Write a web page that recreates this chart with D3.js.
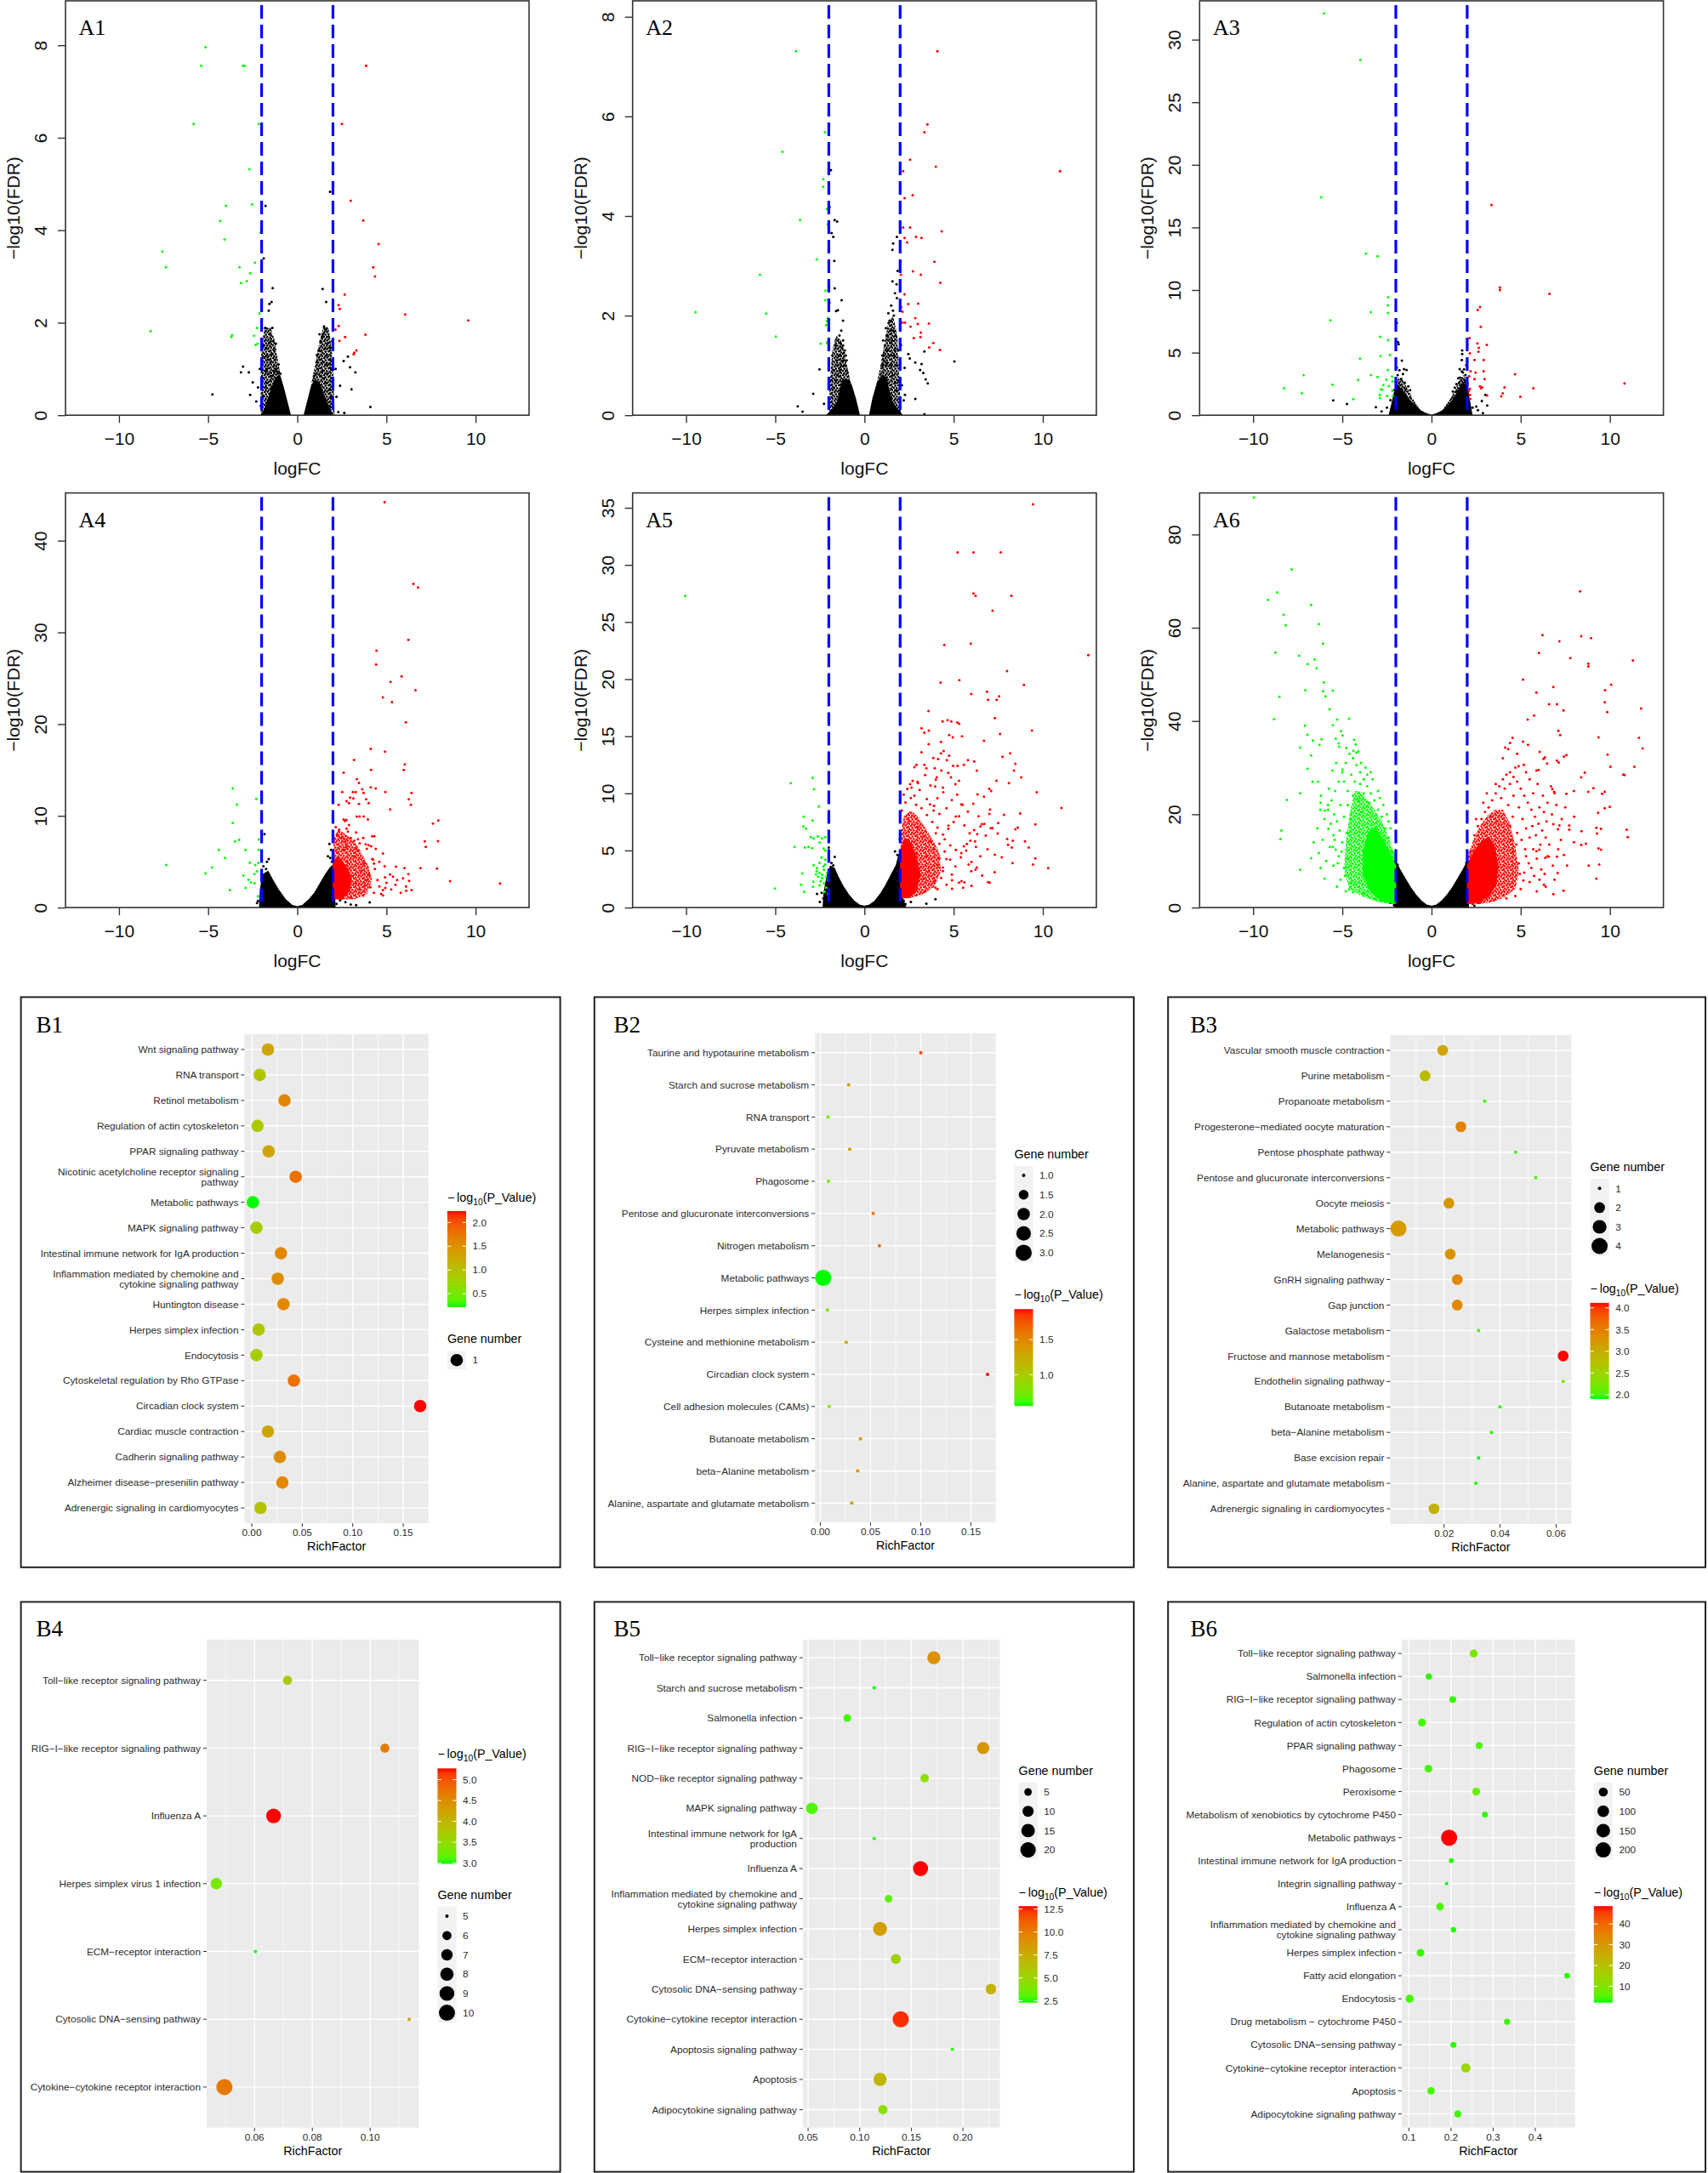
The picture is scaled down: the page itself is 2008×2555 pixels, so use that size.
<!DOCTYPE html>
<html><head><meta charset="utf-8">
<script src="https://cdn.jsdelivr.net/npm/d3@7/dist/d3.min.js"></script>
<style>html,body{margin:0;padding:0;background:#fff;}svg{display:block;}</style>
</head><body>
<svg id="fig" width="2008" height="2555" xmlns="http://www.w3.org/2000/svg"></svg>
<script>
// ================= DATA: volcano plots (logFC, -log10 FDR) =================
const volcNames = ['A1','A2','A3','A4','A5','A6'];
const volcXDomain = [-13, 13];
const volcXTicks = [-10, -5, 0, 5, 10];
const volcThreshold = [-2, 2];
const volcYMax = [8.96, 8.32, 33.1, 45.2, 36.3, 88.9];
const volcYTicks = [[0,2,4,6,8],[0,2,4,6,8],[0,5,10,15,20,25,30],[0,10,20,30,40],[0,5,10,15,20,25,30,35],[0,20,40,60,80]];

const a1Green = [[-5.15,7.96],[-5.39,7.56],[-3.04,7.56],[-2.96,7.56],[-5.81,6.30],[-2.16,6.30],[-2.68,5.32],[-4.0,4.53],[-2.54,4.56],[-4.32,4.20],[-4.08,3.80],[-7.57,3.54],[-7.37,3.20],[-2.38,3.30],[-3.24,3.20],[-2.64,3.07],[-2.84,2.90],[-3.16,2.86],[-8.23,1.82],[-3.66,1.73],[-3.70,1.69],[-2.26,1.89],[-2.42,1.72],[-2.22,1.55],[-2.34,1.52],[-2.12,2.20],[-2.06,3.95]];
const a1Red = [[3.86,7.56],[2.50,6.30],[3.0,4.64],[3.70,4.21],[4.56,3.70],[4.26,3.20],[4.36,3.0],[2.66,2.61],[2.32,2.38],[2.38,2.30],[6.05,2.18],[9.59,2.05],[2.32,1.93],[2.14,1.85],[3.82,1.74],[2.68,1.69],[2.36,1.61],[3.32,1.40],[3.16,1.32],[3.20,1.35]];
const a1Black = [[1.84,4.83],[-1.78,4.53],[-1.88,3.39],[-1.38,2.75],[1.42,2.73],[-1.44,2.45],[-1.56,2.41],[1.62,2.45],[-1.60,2.26],[-4.76,0.45],[-3.04,1.05],[-3.16,0.93],[-2.72,0.93],[-2.50,0.71],[-2.64,0.44],[4.10,0.18],[2.60,1.17],[2.84,1.27],[2.96,1.04],[3.26,0.93],[2.40,0.64],[3.04,0.56],[2.30,0.07],[2.64,0.05],[1.5,1.92],[1.64,1.88],[-1.80,1.89],[-1.40,1.89],[-1.9,1.5],[-1.7,1.3],[-1.2,1.55],[-1.95,1.1],[-1.75,0.95],[1.3,1.6],[1.45,1.75],[1.7,1.55],[1.85,1.2],[1.6,1.1],[1.95,0.8],[2.2,0.4],[2.15,1.0],[-2.2,0.6],[-2.3,0.3],[1.1,1.3],[1.25,1.75],[-1.3,1.4],[-1.5,1.6],
 [-1.85,1.7],[-1.75,1.45],[-1.65,1.2],[-1.55,1.75],[-1.45,1.3],[-1.35,1.05],[-1.25,1.2],[-1.15,0.95],[-1.05,1.1],[-0.95,0.9],[-1.9,0.8],[-1.8,0.6],[-1.7,0.7],[-1.6,0.9],[-1.5,0.75],[-1.4,0.85],[-1.3,0.95],[-1.95,0.4],[-2.05,0.2],[-1.7,1.0],[-1.5,1.15],[-1.2,1.0],[-1.1,0.9],[-1.35,1.6],[-1.6,1.55],[-1.85,1.25],[-2.1,1.0],
 [1.05,0.9],[1.15,1.0],[1.25,1.2],[1.35,1.4],[1.45,1.15],[1.55,1.45],[1.65,1.3],[1.75,1.7],[1.85,1.45],[1.95,1.6],[1.5,0.8],[1.6,0.7],[1.7,0.9],[1.8,0.55],[1.9,0.4],[2.0,0.3],[1.4,0.95],[1.3,0.85],[1.2,1.4],[1.1,1.15],[0.95,0.85],[1.4,1.7],[1.6,1.85],[1.75,1.1],[1.9,1.0]];
const a1Core = [[[-0.4,0],[-0.6,0.3],[-0.8,0.6],[-1.0,0.85],[-1.2,0.8],[-1.4,0.6],[-1.6,0.35],[-1.8,0.15],[-1.95,0]],[[0.4,0],[0.6,0.3],[0.8,0.6],[1.0,0.75],[1.2,0.7],[1.4,0.5],[1.6,0.3],[1.8,0.15],[1.95,0]]];
const a1BlackHalo = [[[-2.05,0],[-2.05,1.2],[-1.85,1.9],[-1.5,1.9],[-1.25,1.6],[-1.05,1.1],[-0.8,0.6],[-0.6,0.3],[-0.4,0]],[[0.4,0],[0.7,0.5],[0.95,1.0],[1.2,1.5],[1.45,1.9],[1.75,1.9],[1.95,1.4],[2.05,0.6],[2.1,0]]];

const a2Green = [[-3.84,7.31],[-2.21,5.68],[-4.60,5.29],[-2.31,4.74],[-2.31,4.59],[-2.11,4.14],[-3.61,3.92],[-2.06,3.83],[-2.68,3.13],[-5.86,2.82],[-2.19,2.50],[-2.19,2.31],[-9.47,2.07],[-5.51,2.04],[-2.06,1.95],[-2.10,1.89],[-2.15,1.81],[-4.97,1.58],[-2.06,1.48],[-2.10,1.45],[-2.46,1.44]];
const a2Red = [[4.09,7.31],[3.53,5.84],[3.36,5.68],[2.56,5.13],[4.0,4.99],[10.96,4.90],[2.17,4.90],[2.70,4.42],[2.25,4.36],[2.17,3.77],[2.56,3.77],[4.33,3.69],[2.25,3.56],[2.39,3.47],[2.89,3.58],[3.2,3.56],[3.92,3.08],[2.02,3.08],[2.72,2.89],[3.16,2.82],[4.25,2.66],[2.04,2.82],[2.25,2.43],[2.46,2.23],[3.01,2.24],[2.06,2.17],[2.13,2.08],[2.85,1.95],[2.13,1.86],[2.27,1.86],[2.99,1.83],[3.61,1.84],[2.58,1.78],[3.16,1.66],[2.77,1.55],[3.14,1.57],[3.86,1.45],[3.63,1.36],[4.23,1.31],[2.06,1.41]];
const a2Black = [[-1.88,4.92],[-1.96,4.18],[-1.67,3.92],[-1.53,3.89],[-1.84,3.66],[-1.75,3.58],[-1.69,3.10],[-1.98,2.58],[-1.67,2.55],[-1.28,2.31],[-1.96,2.26],[-1.49,2.11],[-1.59,2.09],[1.82,3.58],[1.61,3.45],[1.57,3.32],[1.86,2.90],[1.57,2.69],[1.80,2.63],[1.71,2.45],[1.82,2.35],[1.34,2.05],[5.04,1.08],[3.20,1.03],[2.85,1.06],[3.12,0.91],[3.30,0.85],[3.43,0.72],[3.55,0.64],[2.85,0.33],[2.46,1.23],[3.36,1.28],[2.54,1.14],[2.25,0.95],[2.27,0.41],[-2.52,0.92],[-2.87,0.43],[-3.74,0.18],[-3.47,0.07],[-2.27,0.23],[3.36,0.02],[-1.3,1.7],[-1.2,1.5],[-1.1,1.3],[-1.35,1.2],[-1.5,1.0],[-1.7,0.9],[-1.9,0.7],[-1.2,1.9],[-1.0,1.1],[-1.6,1.4],[-1.8,1.2],[-2.0,0.9],[1.2,1.3],[1.3,1.6],[1.4,1.9],[1.5,2.2],[1.6,1.7],[1.7,1.3],[1.8,1.0],[1.9,0.7],[1.1,1.1],[1.45,1.45],[1.65,2.0],[1.75,1.6],[1.9,1.3],[2.1,0.6],[2.2,0.3],[1.0,1.2],[1.25,1.05],
 [-1.0,0.9],[-1.1,1.0],[-1.2,1.1],[-1.3,1.0],[-1.4,0.9],[-1.5,0.8],[-1.6,0.7],[-1.7,0.55],[-1.15,1.25],[-1.25,1.35],[-1.35,1.45],[-1.45,1.2],[-1.55,1.1],[-1.05,1.2],[-0.95,0.85],[-1.4,1.6],[-1.5,1.5],[-1.2,1.4],
 [1.0,1.0],[1.1,1.2],[1.2,1.0],[1.3,1.3],[1.4,1.2],[1.5,1.0],[1.6,0.8],[1.7,0.65],[1.8,0.5],[1.15,1.4],[1.25,1.6],[1.35,1.5],[1.45,1.7],[1.55,1.5],[1.65,1.2],[1.05,1.5],[1.35,1.85],[1.5,1.9],[1.6,2.1],[1.2,1.75]];
const a2Core = [[[-0.3,0],[-0.5,0.3],[-0.75,0.6],[-1.0,0.72],[-1.2,0.7],[-1.35,0.5],[-1.5,0.25],[-1.8,0.1],[-2.1,0]],[[0.3,0],[0.5,0.35],[0.75,0.65],[1.0,0.8],[1.2,0.75],[1.35,0.5],[1.5,0.3],[1.8,0.12],[2.1,0]]];
const a2BlackHalo = [[[-2.0,0],[-1.95,0.6],[-1.8,1.3],[-1.6,1.6],[-1.3,1.5],[-1.1,1.2],[-0.8,0.7],[-0.5,0.3],[-0.3,0]],[[0.3,0],[0.6,0.5],[0.9,1.0],[1.1,1.4],[1.3,1.8],[1.6,2.0],[1.85,1.6],[1.95,0.8],[2.05,0]]];

const a3Green = [[-6.04,32.1],[-3.99,28.4],[-6.18,17.4],[-3.67,12.9],[-3.02,12.7],[-2.43,9.42],[-2.45,8.77],[-3.40,8.23],[-2.45,8.16],[-5.67,7.58],[-2.88,6.27],[-2.43,6.0],[-2.86,4.72],[-2.33,4.82],[-4.01,4.53],[-2.45,3.61],[-3.40,3.20],[-7.17,3.20],[-3.02,3.05],[-2.53,2.83],[-2.21,3.08],[-4.11,2.81],[-2.19,2.69],[-5.55,2.45],[-2.70,2.40],[-2.39,2.32],[-8.27,2.16],[-2.84,2.06],[-2.76,2.06],[-2.19,1.96],[-7.27,1.74],[-2.90,1.62],[-2.90,1.38],[-4.38,1.28],[-2.49,1.55],[-2.17,1.53]];
const a3Red = [[3.36,16.8],[3.83,10.2],[3.83,10.0],[6.61,9.69],[2.72,8.64],[2.59,8.40],[2.76,7.07],[2.13,6.17],[2.02,5.62],[2.57,5.74],[3.10,5.62],[2.65,5.38],[2.63,5.08],[2.15,4.94],[2.41,4.41],[2.92,4.41],[2.19,3.51],[2.47,3.41],[2.92,3.51],[4.68,3.27],[2.11,3.12],[2.41,2.88],[2.98,2.88],[10.82,2.54],[2.03,2.52],[2.72,2.30],[2.84,2.23],[2.78,2.16],[4.09,2.23],[5.71,2.16],[2.15,2.11],[2.09,1.91],[3.99,1.74],[3.91,1.50],[3.12,1.57],[4.98,1.48],[2.15,1.62],[2.17,1.31]];
const a3Black = [[-1.95,7.36],[-1.88,5.84],[-1.84,5.67],[-1.66,4.36],[-1.54,3.68],[-1.40,3.61],[-5.51,1.19],[-4.74,0.90],[-3.12,0.65],[1.72,5.18],[1.72,4.89],[1.70,4.41],[1.58,3.68],[1.82,3.66],[1.50,2.95],[1.76,3.41],[3.02,1.62],[2.82,1.14],[3.12,0.77],[2.88,0.17],[2.51,0.70],[-1.9,3.2],[-1.7,2.9],[-1.5,2.6],[-1.3,2.3],[-2.0,2.7],[-1.8,3.6],[-2.1,2.0],[-2.3,1.2],[-2.5,0.6],[-2.8,0.3],[1.4,2.5],[1.6,3.0],[1.9,3.2],[1.3,2.2],[1.85,2.8],[2.1,1.0],[2.3,0.6],[2.6,0.4],[-1.2,2.0],[1.2,1.9],[-1.6,3.3],[-1.75,2.4],[-1.95,3.8],[-1.45,2.1],[1.55,2.6],[1.7,3.5],[1.95,4.0],[1.45,1.9]];
const a3Core = [[[-0.05,0],[-0.3,0.1],[-0.6,0.3],[-0.9,0.7],[-1.2,1.1],[-1.5,1.6],[-1.7,2.0],[-1.9,2.4],[-2.05,1.8],[-2.2,0.9],[-2.35,0]],[[0.05,0],[0.3,0.1],[0.6,0.3],[0.9,0.7],[1.2,1.2],[1.4,1.6],[1.6,2.2],[1.8,2.6],[1.98,2.2],[2.1,1.2],[2.25,0]]];
const a3BlackHalo = [[[-2.4,0],[-2.05,2.2],[-1.85,3.0],[-1.6,2.8],[-1.3,2.0],[-1.0,1.2],[-0.6,0.4],[-0.1,0]],[[0.1,0],[0.6,0.4],[1.0,1.2],[1.3,2.0],[1.55,2.8],[1.8,3.2],[1.98,2.8],[2.1,1.5],[2.3,0]]];

const a4Green = [[-3.62,12.98],[-2.30,11.85],[-3.38,11.23],[-3.62,9.24],[-7.35,4.64],[-3.50,7.22],[-3.26,7.38],[-2.16,7.42],[-4.40,6.29],[-2.90,6.29],[-2.16,6.29],[-4.06,5.40],[-2.66,4.90],[-2.36,4.64],[-2.18,4.87],[-4.78,4.37],[-5.15,3.71],[-2.26,3.94],[-2.40,3.64],[-3.02,3.48],[-2.74,3.05],[-2.60,2.75],[-2.40,2.65],[-2.90,2.15],[-3.78,1.92],[-2.20,1.23]];
const a4Red = [[4.90,44.2],[6.51,35.3],[6.77,34.9],[6.23,29.2],[4.44,28.0],[4.42,26.5],[5.85,25.2],[5.23,24.6],[6.63,23.7],[4.80,22.9],[5.31,22.4],[6.09,20.2],[4.12,17.3],[4.92,17.0],[3.18,16.1],[6.03,15.6],[4.14,15.0],[5.97,15.0],[2.60,14.7],[3.34,14.0],[3.46,13.6],[4.12,13.1],[4.40,13.0],[4.94,12.6],[6.41,12.5],[3.12,12.6],[3.28,12.6],[2.52,12.6],[3.64,12.9],[3.72,12.5],[2.96,12.0],[2.76,11.6],[2.90,11.4],[3.14,11.9],[6.25,11.8],[6.37,11.2],[3.86,11.8],[3.46,11.3],[4.0,11.4],[2.32,11.2],[5.21,10.7],[2.60,9.6],[2.76,9.57],[2.68,9.44],[3.34,9.93],[3.50,9.93],[3.72,9.93],[3.96,9.6],[7.91,9.50],[7.61,9.17],[2.16,8.77],[2.76,8.61],[2.84,8.28],[2.22,7.95],[2.50,7.68],[2.64,7.52],[4.20,7.78],[4.32,7.78],[3.40,7.45],[3.20,7.28],[7.15,7.22],[7.21,6.62],[7.89,7.25],[3.84,6.89],[4.0,6.79],[4.14,6.69],[2.74,6.62],[3.30,6.46],[4.80,5.89],[4.26,5.23],[4.30,4.80],[5.53,4.47],[6.01,4.30],[6.23,3.64],[6.27,2.91],[6.91,4.30],[7.83,4.24],[8.57,2.88],[11.37,2.62],[4.92,3.31],[5.37,3.38],[4.94,2.15],[5.27,1.99],[5.51,2.48],[6.11,1.85],[6.41,1.92],[4.70,1.49],[4.80,1.32],[5.93,3.18],[2.1,1.2],[2.2,2.0],[2.3,3.1],[2.15,4.4],[2.4,5.2],[2.25,6.0],[2.6,6.3],[2.8,5.0],[2.9,4.2],[3.1,3.4],[3.3,2.6],[3.5,2.0],[3.8,2.4],[3.9,3.0],[4.0,3.6],[4.1,2.2],[3.6,4.0],[3.7,4.8],[3.2,5.6],[3.4,6.2],[2.7,7.2],[3.0,7.6],[3.5,7.0],[3.9,6.4],[4.2,5.3],[4.35,4.2],[4.5,3.0],[4.6,2.3],[4.3,1.6],[3.7,1.3],[3.0,1.1],[2.5,1.0],[4.8,1.9],[5.0,2.7],[5.2,3.6],[4.6,5.0],[2.35,8.5],[2.9,9.0],[3.3,8.2],[3.7,7.6],[4.4,6.4],[4.9,4.5],[5.6,3.0],[6.1,2.3],[5.8,1.6]];
const a4Black = [[-1.84,8.0],[-1.6,5.3],[-1.7,5.0],[1.72,5.6],[1.9,6.3],[1.8,6.95],[4.06,0.56],[3.0,0.33],[3.3,0.26],[2.4,0.8],[2.56,1.16],[-2.2,0.73],[-1.94,0.33],[-2.26,0.5],[-1.9,4.5],[-1.75,4.2],[1.95,5.0],[1.85,5.4],[2.2,0.4],[2.7,0.6]];
const a4Core = [[[-2.1,0],[-2.05,2.0],[-1.9,3.6],[-1.65,3.9],[-1.4,3.0],[-1.1,2.0],[-0.7,0.9],[-0.3,0.2],[0,0.05],[0.3,0.2],[0.7,0.9],[1.0,1.6],[1.3,2.6],[1.6,3.6],[1.85,4.3],[2.02,4.6],[2.05,2.5],[2.1,0]]];
const a4RedCore = [[[2.03,1.0],[2.03,5.0],[2.3,5.5],[2.7,4.5],[3.0,3.2],[2.9,1.8],[2.5,1.0]]];
const a4RedHalo = [[[2.03,0.9],[2.03,7.5],[2.3,8.5],[2.7,8.0],[3.2,7.2],[3.6,6.0],[4.0,4.5],[4.2,3.0],[3.9,1.5],[3.2,0.9]]];

const a5Green = [[-10.05,27.3],[-4.13,10.9],[-2.91,11.37],[-2.83,10.36],[-2.56,8.85],[-3.41,7.95],[-2.91,7.63],[-3.43,7.10],[-3.28,6.91],[-3.01,6.17],[-2.85,6.06],[-2.62,6.22],[-2.39,6.06],[-2.19,6.17],[-3.92,5.31],[-3.34,5.26],[-3.14,5.31],[-2.93,5.21],[-2.52,5.71],[-2.29,5.16],[-2.19,5.0],[-2.41,4.38],[-2.19,4.20],[-2.52,3.91],[-2.21,3.77],[-2.85,3.72],[-2.66,3.45],[-3.49,2.98],[-2.68,3.19],[-2.52,3.03],[-2.72,2.92],[-2.37,2.87],[-2.27,3.30],[-2.15,2.71],[-2.39,2.60],[-2.87,2.26],[-2.27,2.13],[-2.52,1.94],[-3.55,1.99],[-3.38,1.38],[-5.02,1.67],[-2.15,1.73],[-2.23,1.38],[-2.89,1.81],[-2.05,2.4],[-2.1,3.0],[-2.3,3.6],[-2.45,2.3],[-2.6,2.7],[-2.05,1.2]];
const a5Red = [[9.45,35.3],[5.22,31.1],[6.11,31.1],[7.64,31.1],[6.11,27.5],[6.23,27.3],[8.24,27.3],[7.18,26.0],[4.48,23.0],[5.96,23.1],[12.55,22.1],[7.99,20.7],[4.27,19.7],[5.32,19.9],[8.94,19.5],[5.99,18.7],[6.87,18.9],[6.93,18.2],[7.41,18.2],[7.55,18.5],[3.59,17.2],[4.87,16.3],[4.38,16.3],[4.66,16.4],[7.31,16.6],[5.20,16.2],[5.31,16.1],[3.20,15.7],[3.36,15.3],[3.61,15.5],[4.75,15.1],[4.95,14.9],[5.47,15.0],[9.39,15.5],[4.29,14.5],[4.44,13.7],[4.29,13.5],[8.17,13.5],[7.74,13.2],[4.75,13.3],[3.86,13.1],[4.13,13.0],[4.62,12.9],[8.46,12.6],[8.38,12.0],[6.15,12.8],[2.91,12.5],[3.36,12.5],[3.47,12.2],[4.97,12.4],[5.22,12.4],[5.57,12.5],[3.94,12.2],[4.31,12.0],[8.79,11.4],[4.85,11.4],[5.30,11.1],[2.56,10.8],[2.64,10.5],[2.97,11.0],[4.05,11.4],[3.96,10.6],[4.42,10.1],[6.34,9.91],[7.0,10.4],[7.1,10.2],[9.66,10.1],[11.04,8.72],[7.04,8.58],[8.73,8.24],[7.82,8.13],[6.58,7.31],[6.72,7.33],[9.58,7.28],[7.08,6.96],[7.18,6.96],[8.46,6.86],[7.47,6.48],[6.32,6.43],[8.05,5.50],[8.26,5.26],[8.32,5.85],[9.21,5.26],[7.31,4.62],[9.58,4.30],[9.45,3.77],[10.30,3.45],[5.84,3.77],[5.99,3.19],[6.23,3.32],[5.30,2.18],[5.44,2.31],[6.93,2.23],[7.02,2.18],[4.91,2.39],[4.91,1.65],[5.53,1.73],[3.98,1.73],[5.57,5.37],[5.74,5.58],[5.43,4.78],[6.15,6.78],[5.94,5.85],[6.25,5.31],[4.50,5.98],[4.81,5.45],[5.12,5.05],[4.60,4.25],[4.09,3.72],[4.40,3.19],[4.71,7.18],[5.12,7.97],[5.43,9.04],[3.88,8.50],[3.67,9.04],[4.09,9.57],[2.1,8.5],[2.3,9.2],[2.6,9.6],[2.9,9.0],[3.2,8.7],[3.5,8.1],[3.8,7.5],[4.1,7.0],[4.4,6.4],[4.7,6.9],[5.0,7.5],[5.3,8.0],[5.6,7.2],[5.9,6.5],[6.2,5.8],[6.5,7.1],[6.8,6.3],[4.2,5.6],[4.5,4.9],[4.8,4.2],[5.1,3.6],[5.4,4.4],[5.7,5.0],[6.0,4.0],[6.3,3.5],[6.6,2.8],[4.3,2.6],[4.6,2.0],[4.9,2.9],[3.3,2.5],[3.6,3.2],[3.9,2.3],[4.1,1.6],[3.4,1.4],[2.8,9.8],[3.1,10.3],[3.5,9.5],[3.9,8.9],[4.2,8.2],[4.6,8.7],[4.9,9.4],[5.2,9.9],[5.5,9.0],[5.8,8.4],[6.1,9.1],[6.4,8.0],[2.4,10.4],[2.7,11.1],[3.0,10.9],[3.4,11.6],[3.7,10.7],[4.0,11.2],[4.4,10.5],[4.7,11.8],[5.1,10.8],[3.2,13.6],[3.6,14.3],[2.8,12.3],[2.2,9.9],[2.5,7.6],[3.0,7.0],[3.3,6.2],[2.6,5.6],[2.9,4.7],[3.5,4.5],[3.9,5.1],[4.2,4.3],[4.4,3.5],[3.7,5.8],[4.0,6.5],[7.7,4.4],[8.0,6.0],[8.6,7.0],[9.0,5.8],[7.5,7.4],[6.9,5.1],[7.3,3.1],[8.3,3.9],[6.0,1.9],[5.6,2.2],[6.5,4.5],[7.0,8.2],[6.7,9.7],[7.4,11.1],[6.3,12.0],[5.8,12.9],[6.7,14.6],[7.6,15.2],[8.1,10.9]];
const a5Black = [[-2.0,5.26],[-1.67,4.44],[-2.66,1.2],[-1.85,3.9],[-1.9,3.4],[-1.75,3.7],[1.98,5.98],[1.71,4.92],[1.85,4.6],[3.47,0.35],[3.98,0.74],[2.43,0.93],[2.2,0.6],[2.6,0.5],[-2.2,1.1],[-2.3,0.8],[-2.5,0.5],[-2.15,1.5],[-2.4,1.3],[1.95,4.2],[2.1,0.4],[2.3,0.3]];
const a5Core = [[[-2.3,0],[-2.25,1.3],[-2.05,3.0],[-1.9,3.6],[-1.7,3.4],[-1.5,2.7],[-1.2,1.8],[-0.9,1.1],[-0.6,0.55],[-0.3,0.2],[0,0.08],[0.3,0.2],[0.6,0.55],[0.9,1.15],[1.2,1.9],[1.5,2.8],[1.8,3.7],[1.95,4.6],[2.05,4.8],[2.1,0.9],[2.3,0]]];
const a5RedCore = [[[2.03,0.9],[2.03,5.0],[2.3,6.0],[2.6,5.5],[2.9,4.2],[3.1,3.0],[2.9,1.6],[2.5,0.9]]];
const a5RedHalo = [[[2.03,0.8],[2.03,6.5],[2.2,8.0],[2.6,8.5],[3.0,8.0],[3.4,7.0],[3.8,6.0],[4.2,4.8],[4.3,3.2],[3.9,1.8],[3.2,1.1],[2.5,0.8]]];

const a6Green = [[-9.95,87.9],[-7.84,72.5],[-8.65,67.6],[-9.16,66.0],[-6.75,64.9],[-8.29,62.8],[-8.17,60.5],[-6.32,60.8],[-6.08,56.6],[-8.75,54.7],[-7.42,54.0],[-6.55,53.2],[-6.95,52.2],[-6.44,51.3],[-6.04,48.3],[-7.07,46.6],[-6.08,46.4],[-5.53,46.5],[-5.94,45.3],[-8.53,45.2],[-5.71,42.5],[-8.83,40.4],[-5.29,40.3],[-4.62,40.5],[-7.09,39.0],[-5.53,39.1],[-6.95,37.1],[-5.07,37.8],[-4.99,36.9],[-7.36,34.3],[-6.65,35.8],[-6.16,36.1],[-6.28,34.9],[-5.37,36.2],[-5.21,35.2],[-5.17,34.5],[-4.34,36.0],[-6.75,32.6],[-4.78,34.2],[-4.38,33.6],[-4.21,33.2],[-6.95,29.8],[-5.55,29.4],[-4.99,29.6],[-6.67,27.0],[-7.36,24.5],[-8.11,23.1],[-6.22,22.5],[-5.80,22.0],[-6.24,21.0],[-5.98,20.8],[-8.41,16.5],[-8.47,14.7],[-5.78,16.9],[-6.75,10.6],[-6.32,11.7],[-6.22,8.5],[-7.36,8.1],[-5.43,14.5],[-5.53,13.0],[-5.37,12.4],[-4.62,3.9],[-4.52,5.3],[-4.32,5.2],[-2.2,12],[-2.4,15],[-2.6,17],[-2.8,19.5],[-3.0,21],[-3.2,23],[-3.4,24.5],[-3.6,26],[-3.8,27.5],[-4.0,29],[-4.2,30.5],[-4.4,32],[-4.6,33],[-4.8,31],[-5.0,29],[-5.2,27],[-5.4,25],[-5.6,23],[-5.8,21],[-6.0,19],[-4.3,27],[-4.7,25],[-5.1,22],[-5.3,18.5],[-5.5,15.5],[-5.7,13],[-5.9,10],[-5.2,11],[-5.0,14],[-4.9,8.5],[-5.1,6],[-4.4,3.3],[-3.8,3],[-3.2,2],[-2.6,1.3],[-2.2,1.0],[-3.0,25],[-3.3,27.5],[-3.7,30],[-4.1,33.5],[-4.5,28.5],[-3.5,22.5],[-3.9,20.5],[-4.5,19],[-4.9,19.5],[-4.7,22],[-2.5,20],[-2.9,23.5],[-3.1,17],[-2.3,17],[-6.2,24],[-6.4,17],[-6.6,14],[-5.5,9],[-5.3,4.5],[-4.8,3.5],[-6.0,6.2],[-3.4,29],[-4.0,26.5],[-4.4,24],[-4.75,16],[-5.05,12],[-5.25,9.5],[-4.65,10.5],[-4.85,6.8],[-5.45,20],[-5.65,18],[-5.15,16.5],[-5.35,31],[-4.9,27],[-4.1,23],[-3.8,24.5],[-3.6,28.5],[-2.7,22],[-2.4,18.5],[-6.1,14.5],[-6.35,27],[-5.75,25.5],[-4.25,35],[-3.95,31]];
const a6Red = [[8.33,67.8],[6.22,58.4],[8.39,58.2],[8.94,57.8],[7.17,57.1],[6.02,54.6],[7.78,53.5],[11.29,53.0],[8.79,52.3],[8.79,51.7],[5.13,48.9],[10.07,47.8],[6.83,47.3],[9.73,46.6],[5.88,46.1],[6.59,43.6],[7.03,43.6],[9.71,44.0],[11.75,42.7],[7.40,42.3],[9.85,41.9],[5.75,41.2],[5.39,40.3],[7.11,37.9],[7.21,37.0],[9.36,36.5],[11.63,36.4],[5.13,35.6],[4.54,36.4],[4.40,35.3],[5.41,34.9],[11.83,34.1],[4.13,34.3],[6.06,33.4],[6.36,32.2],[6.28,31.9],[7.56,32.7],[7.42,32.4],[9.87,32.8],[7.03,31.5],[7.13,31.1],[6.48,30.9],[10.03,30.2],[11.37,30.2],[4.88,30.3],[5.17,30.6],[10.74,28.5],[10.82,28.4],[8.59,28.9],[8.39,27.9],[5.88,29.4],[9.08,25.6],[6.77,25.4],[6.87,24.8],[8.79,24.8],[9.56,24.4],[9.71,24.8],[7.56,24.4],[7.98,25.0],[9.99,21.6],[9.71,21.3],[9.34,20.3],[6.83,17.9],[7.17,17.6],[7.09,16.8],[7.72,17.6],[7.72,16.7],[9.24,17.1],[9.50,16.9],[8.41,16.4],[10.94,16.7],[11.0,15.1],[9.28,15.9],[7.98,14.0],[8.65,13.7],[8.39,13.4],[9.36,12.7],[9.50,12.4],[6.04,12.4],[5.88,12.1],[6.38,10.7],[6.57,10.9],[7.03,10.9],[7.42,11.3],[8.81,9.0],[9.40,9.25],[7.07,7.4],[9.24,6.2],[6.34,7.2],[6.83,2.9],[7.40,3.6],[6.30,4.9],[2.2,12],[2.4,15.5],[2.6,17.5],[2.8,19],[3.0,20.5],[3.2,21.5],[3.4,23],[3.6,24.5],[3.8,26],[4.0,27.5],[4.2,28.5],[4.4,29],[4.6,28],[4.8,27],[5.0,25.5],[5.2,24],[5.4,22.5],[5.6,21],[5.8,19.5],[6.0,18],[6.2,16.5],[6.4,15],[6.6,13.5],[4.3,22],[4.6,24],[4.9,21.5],[5.1,19],[5.3,17],[5.5,15],[5.7,12.5],[5.9,10.5],[4.8,16],[4.6,12],[4.9,9.5],[5.2,7.5],[5.5,5.5],[5.0,4.0],[4.7,2.5],[4.2,2.0],[3.5,1.5],[2.7,1.0],[2.3,0.9],[3.6,26.5],[3.9,23.5],[4.1,25.5],[4.4,26.5],[4.7,30],[3.3,19.5],[3.7,18.5],[4.4,17.5],[2.5,19],[2.9,22.5],[3.1,24.5],[6.1,13.5],[6.3,20.5],[6.5,22.5],[6.7,26],[6.9,24.5],[5.5,27.5],[5.7,24.5],[6.0,29.5],[5.3,29],[4.0,32],[4.3,34],[4.8,33],[6.5,11],[6.8,9],[7.1,12.5],[6.9,6],[6.4,4.5],[5.9,3.5],[5.6,8.5],[5.3,11],[5.05,14.5],[5.25,12.5],[5.45,9.5],[5.75,6.8],[5.15,5.8],[4.95,7.2],[6.15,8.2],[6.05,6.0],[5.85,15.5],[6.05,21.5],[6.25,24],[5.95,26.5],[6.45,18.5],[6.75,20],[7.0,22],[7.3,19],[7.5,21.5],[7.25,14.5],[7.6,9],[8.0,19.5],[4.55,19.5],[4.75,13.5],[4.45,14.5],[5.65,17.5]];
const a6Black = [[-1.9,9.2],[1.95,9.6],[-2.3,1.0],[2.3,0.8],[-2.1,0.5],[2.4,0.4]];
const a6Core = [[[-2.05,0],[-2.05,10],[-1.8,8.2],[-1.5,6.2],[-1.2,4.3],[-0.9,2.7],[-0.6,1.4],[-0.3,0.5],[0,0.2],[0.3,0.5],[0.6,1.4],[0.9,2.7],[1.2,4.3],[1.5,6.2],[1.8,8.2],[2.05,10],[2.05,0]]];
const a6GreenCore = [[[-2.03,1.0],[-2.03,9.0],[-2.4,12],[-2.8,15],[-3.2,17],[-3.5,16],[-3.8,12],[-3.8,7],[-3.4,3.5],[-2.8,1.5]]];
const a6GreenHalo = [[[-2.03,0.8],[-2.03,11],[-2.4,15],[-2.8,18.5],[-3.2,21],[-3.6,23],[-4.0,25],[-4.3,25],[-4.6,20],[-4.8,14],[-4.9,8],[-4.6,4],[-3.8,2.2],[-3.0,1.2],[-2.4,0.8]]];
const a6RedCore = [[[2.03,1.0],[2.03,9.0],[2.4,12],[2.8,14],[3.2,15],[3.5,13],[3.7,9],[3.6,5],[3.2,2.5],[2.6,1.2]]];
const a6RedHalo = [[[2.03,0.8],[2.03,11],[2.4,15],[2.8,18],[3.2,20],[3.6,21],[4.0,21],[4.4,18],[4.7,13],[4.9,8],[4.7,4],[4.0,2.0],[3.2,1.0],[2.5,0.7]]];

// ================= DATA: KEGG bubble plots =================
const bubbleNames = ['B1','B2','B3','B4','B5','B6'];

const b1Cats = ["Wnt signaling pathway","RNA transport","Retinol metabolism","Regulation of actin cytoskeleton","PPAR signaling pathway","Nicotinic acetylcholine receptor signaling\npathway","Metabolic pathways","MAPK signaling pathway","Intestinal immune network for IgA production","Inflammation mediated by chemokine and\ncytokine signaling pathway","Huntington disease","Herpes simplex infection","Endocytosis","Cytoskeletal regulation by Rho GTPase","Circadian clock system","Cardiac muscle contraction","Cadherin signaling pathway","Alzheimer disease\u2212presenilin pathway","Adrenergic signaling in cardiomyocytes"];
const b1Rich = [0.0160,0.0078,0.0324,0.0057,0.0167,0.0435,0.0011,0.0046,0.0289,0.0257,0.0314,0.0068,0.0046,0.0417,0.1668,0.0160,0.0278,0.0303,0.0086];
const b1LogP = [1.30,0.95,1.62,0.90,1.30,1.80,0.22,0.85,1.58,1.55,1.60,0.95,0.85,1.78,2.24,1.30,1.55,1.60,0.98];
const b1Genes = [1,1,1,1,1,1,1,1,1,1,1,1,1,1,1,1,1,1,1];

const b2Cats = ["Taurine and hypotaurine metabolism","Starch and sucrose metabolism","RNA transport","Pyruvate metabolism","Phagosome","Pentose and glucuronate interconversions","Nitrogen metabolism","Metabolic pathways","Herpes simplex infection","Cysteine and methionine metabolism","Circadian clock system","Cell adhesion molecules (CAMs)","Butanoate metabolism","beta\u2212Alanine metabolism","Alanine, aspartate and glutamate metabolism"];
const b2Rich = [0.100,0.0282,0.0077,0.0293,0.0081,0.0526,0.0588,0.0029,0.0070,0.0257,0.1665,0.0088,0.0400,0.0371,0.0312];
const b2LogP = [1.80,1.32,0.75,1.33,0.75,1.62,1.65,0.554,0.72,1.28,1.933,0.75,1.45,1.42,1.35];
const b2Genes = [1,1,1,1,1,1,1,3,1,1,1,1,1,1,1];

const b3Cats = ["Vascular smooth muscle contraction","Purine metabolism","Propanoate metabolism","Progesterone\u2212mediated oocyte maturation","Pentose phosphate pathway","Pentose and glucuronate interconversions","Oocyte meiosis","Metabolic pathways","Melanogenesis","GnRH signaling pathway","Gap junction","Galactose metabolism","Fructose and mannose metabolism","Endothelin signaling pathway","Butanoate metabolism","beta\u2212Alanine metabolism","Base excision repair","Alanine, aspartate and glutamate metabolism","Adrenergic signaling in cardiomyocytes"];
const b3Rich = [0.0195,0.0132,0.0345,0.0260,0.0455,0.0527,0.0217,0.0037,0.0222,0.0247,0.0247,0.0323,0.0625,0.0625,0.0399,0.0369,0.0323,0.0313,0.0164];
const b3LogP = [3.10,2.80,1.95,3.45,2.00,1.98,3.25,3.20,3.30,3.40,3.40,1.95,4.115,2.15,1.95,1.95,1.904,1.93,2.95];
const b3Genes = [2,2,1,2,1,1,2,4,2,2,2,1,2,1,1,1,1,1,2];

const b4Cats = ["Toll\u2212like receptor signaling pathway","RIG\u2212I\u2212like receptor signaling pathway","Influenza A","Herpes simplex virus 1 infection","ECM\u2212receptor interaction","Cytosolic DNA\u2212sensing pathway","Cytokine\u2212cytokine receptor interaction"];
const b4Rich = [0.0714,0.1051,0.0666,0.0468,0.0603,0.1135,0.0496];
const b4LogP = [3.75,4.65,5.27,3.30,2.98,4.15,4.70];
const b4Genes = [6,6,9,7,5,5,10];

const b5Cats = ["Toll\u2212like receptor signaling pathway","Starch and sucrose metabolism","Salmonella infection","RIG\u2212I\u2212like receptor signaling pathway","NOD\u2212like receptor signaling pathway","MAPK signaling pathway","Intestinal immune network for IgA\nproduction","Influenza A","Inflammation mediated by chemokine and\ncytokine signaling pathway","Herpes simplex infection","ECM\u2212receptor interaction","Cytosolic DNA\u2212sensing pathway","Cytokine\u2212cytokine receptor interaction","Apoptosis signaling pathway","Apoptosis","Adipocytokine signaling pathway"];
const b5Rich = [0.1718,0.114,0.0879,0.2196,0.1629,0.0536,0.114,0.1589,0.1279,0.1197,0.135,0.2271,0.1397,0.1896,0.1197,0.1225];
const b5LogP = [9.0,2.3,2.7,8.8,4.5,2.9,2.4,12.82,3.1,8.3,5.4,7.2,12.4,2.5,7.0,4.4];
const b5Genes = [14,3,5,12,6,11,3,19,5,16,8,9,22,3,14,7];

const b6Cats = ["Toll\u2212like receptor signaling pathway","Salmonella infection","RIG\u2212I\u2212like receptor signaling pathway","Regulation of actin cytoskeleton","PPAR signaling pathway","Phagosome","Peroxisome","Metabolism of xenobiotics by cytochrome P450","Metabolic pathways","Intestinal immune network for IgA production","Integrin signalling pathway","Influenza A","Inflammation mediated by chemokine and\ncytokine signaling pathway","Herpes simplex infection","Fatty acid elongation","Endocytosis","Drug metabolism \u2212 cytochrome P450","Cytosolic DNA\u2212sensing pathway","Cytokine\u2212cytokine receptor interaction","Apoptosis","Adipocytokine signaling pathway"];
const b6Rich = [0.2539,0.1474,0.2041,0.131,0.2668,0.1464,0.26,0.2805,0.1955,0.2007,0.1894,0.174,0.2057,0.1276,0.4756,0.1018,0.333,0.2057,0.235,0.1525,0.216];
const b6LogP = [8.5,3.2,3.5,4.0,5.0,4.0,7.0,3.5,48.6,2.6,2.1,4.5,2.8,3.5,3.2,4.0,3.3,3.1,14.0,4.0,3.6];
const b6Genes = [33,18,21,33,24,31,33,15,230,8,5,31,11,31,13,37,15,15,52,27,24];

// axis breaks (tick labels) for bubble plots
const bMajor = [[0,0.05,0.10,0.15],[0,0.05,0.10,0.15],[0.02,0.04,0.06],[0.06,0.08,0.10],[0.05,0.10,0.15,0.20],[0.1,0.2,0.3,0.4]];
const bMinor = [[0.025,0.075,0.125],[0.025,0.075,0.125],[0.01,0.03,0.05],[0.05,0.07,0.09,0.11],[0.075,0.125,0.175,0.225],[0.15,0.25,0.35,0.45]];
const bXFmt = ['.2f','.2f','.2f','.2f','.2f','.1f'];
const bColorBreaks = [[0.5,1.0,1.5,2.0],[1.0,1.5],[2.0,2.5,3.0,3.5,4.0],[3.0,3.5,4.0,4.5,5.0],[2.5,5.0,7.5,10.0,12.5],[10,20,30,40]];
const bColorFmt = ['.1f','.1f','.1f','.1f','.1f','d'];
const bGeneBreaks = [[1],[1.0,1.5,2.0,2.5,3.0],[1,2,3,4],[5,6,7,8,9,10],[5,10,15,20],[50,100,150,200]];
const bGeneFmt = ['d','.1f','d','d','d','d'];

// ================= LAYOUT (positions / sizes) =================
const SANS = "'Liberation Sans', Arial, Helvetica, sans-serif";
const SERIF = "'Liberation Serif', 'Times New Roman', Times, serif";
const volcBoxes = [[77,1,622,488.2],[743.7,1,1288.9,488.2],[1410.3,1,1955.6,488.2],[77,579.6,622,1067.1],[743.7,579.6,1288.9,1067.1],[1410.3,579.6,1955.6,1067.1]];
const bubbleLayout = [
  {frame:[24.6,1172.4,658.6,1842.8], label:[42.4,1213.7], panel:[287.5,1216,503.8,1791], lx:525.9, colorTitle:1407.6, bar:[1423.9,1536.8], geneTitle:1573.6, key0:1599.2, keyStep:21.5},
  {frame:[698.8,1172.4,1332.9,1842.8], label:[721.4,1213.7], panel:[958.2,1215,1170.7,1790], lx:1192.4, geneTitle:1356.6, key0:1382.1, keyStep:22.7, colorTitle:1521.6, bar:[1539.3,1653.2]},
  {frame:[1373.2,1172.4,2005,1842.8], label:[1399.6,1213.7], panel:[1634.4,1217,1847.4,1792], lx:1869.5, geneTitle:1372.3, key0:1397.3, keyStep:22.6, colorTitle:1514.7, bar:[1531.9,1644.9]},
  {frame:[24.6,1883.5,658.6,2553.6], label:[42.4,1924.4], panel:[243,1927.9,492.4,2501.7], lx:514.4, colorTitle:2061.7, bar:[2079.3,2191.5], geneTitle:2228, key0:2253.1, keyStep:22.7},
  {frame:[698.8,1883.5,1332.9,2553.6], label:[721.4,1924.4], panel:[943.9,1927.9,1175.5,2501.7], lx:1197.6, geneTitle:2081.9, key0:2107, keyStep:22.7, colorTitle:2224.5, bar:[2241.2,2354.7]},
  {frame:[1373.2,1883.5,2005,2553.6], label:[1399.6,1924.4], panel:[1648,1927.9,1851.6,2501.7], lx:1873.8, geneTitle:2081.9, key0:2107, keyStep:22.7, colorTitle:2224.5, bar:[2241.2,2354.7]}
];

// ================= DRAWING =================
const svg = d3.select('#fig');
const defs = svg.append('defs');
svg.append('rect').attr('width',2008).attr('height',2555).attr('fill','#fff');

// dense-cloud texture (tile of irregular dots) used for the crowded parts of the volcano clouds
const dotTile = [[1.2,1.0],[4.6,0.6],[8.1,1.8],[2.8,3.6],[6.4,3.2],[9.3,4.6],[0.7,6.0],[4.2,6.4],[7.6,6.9],[2.4,8.9],[5.8,9.3],[9.0,8.6]];
function makeDotPattern(id, color){
  const p = defs.append('pattern').attr('id',id).attr('patternUnits','userSpaceOnUse').attr('width',10).attr('height',10);
  p.selectAll('circle').data(dotTile).join('circle').attr('cx',d=>d[0]).attr('cy',d=>d[1]).attr('r',1.4).attr('fill',color);
}
makeDotPattern('dotsRed','#FF0000');
makeDotPattern('dotsGreen','#00FF00');
makeDotPattern('dotsBlack','#000000');

const volcData = [
  {blackHalo:a1BlackHalo, core:a1Core, black:a1Black, greenHalo:[], greenCore:[], green:a1Green, redHalo:[], redCore:[], red:a1Red},
  {blackHalo:a2BlackHalo, core:a2Core, black:a2Black, greenHalo:[], greenCore:[], green:a2Green, redHalo:[], redCore:[], red:a2Red},
  {blackHalo:a3BlackHalo, core:a3Core, black:a3Black, greenHalo:[], greenCore:[], green:a3Green, redHalo:[], redCore:[], red:a3Red},
  {blackHalo:[], core:a4Core, black:a4Black, greenHalo:[], greenCore:[], green:a4Green, redHalo:a4RedHalo, redCore:a4RedCore, red:a4Red},
  {blackHalo:[], core:a5Core, black:a5Black, greenHalo:[], greenCore:[], green:a5Green, redHalo:a5RedHalo, redCore:a5RedCore, red:a5Red},
  {blackHalo:[], core:a6Core, black:a6Black, greenHalo:a6GreenHalo, greenCore:a6GreenCore, green:a6Green, redHalo:a6RedHalo, redCore:a6RedCore, red:a6Red}
];

function drawVolcano(i){
  const [x0,y0,x1,y1] = volcBoxes[i];
  const d = volcData[i];
  const x = d3.scaleLinear().domain(volcXDomain).range([x0,x1]);
  const y = d3.scaleLinear().domain([0, volcYMax[i]]).range([y1,y0]);
  const g = svg.append('g');
  const cid = 'vclip'+i;
  defs.append('clipPath').attr('id',cid).append('rect').attr('x',x0).attr('y',y0).attr('width',x1-x0).attr('height',y1-y0);
  const pg = g.append('g').attr('clip-path',`url(#${cid})`);
  const line = d3.line().x(p=>x(p[0])).y(p=>y(p[1]));
  const layers = [
    [d.blackHalo, d.core, d.black, '#000000', 'url(#dotsBlack)'],
    [d.greenHalo, d.greenCore, d.green, '#00FF00', 'url(#dotsGreen)'],
    [d.redHalo, d.redCore, d.red, '#FF0000', 'url(#dotsRed)']
  ];
  layers.forEach(([halo,polys,pts,col,pat])=>{
    pg.append('g').selectAll('path').data(halo).join('path').attr('d',p=>line(p)+'Z').attr('fill',pat);
    pg.append('g').selectAll('path').data(polys).join('path')
      .attr('d',p=>line(p)+'Z').attr('fill',col).attr('stroke',col).attr('stroke-width',2).attr('stroke-linejoin','round');
    pg.append('g').selectAll('circle').data(pts).join('circle')
      .attr('cx',p=>x(p[0])).attr('cy',p=>y(p[1])).attr('r',1.5).attr('fill',col);
  });
  pg.append('g').selectAll('line').data(volcThreshold).join('line')
    .attr('x1',v=>x(v)).attr('x2',v=>x(v)).attr('y1',y0+5).attr('y2',y1)
    .attr('stroke','#0000FF').attr('stroke-width',3.2).attr('stroke-dasharray','16 7');
  g.append('rect').attr('x',x0).attr('y',y0).attr('width',x1-x0).attr('height',y1-y0)
    .attr('fill','none').attr('stroke','#333').attr('stroke-width',1.6);
  const ax = g.append('g').attr('transform',`translate(0,${y1})`)
    .call(d3.axisBottom(x).tickValues(volcXTicks).tickSize(9).tickSizeOuter(0));
  ax.select('.domain').remove();
  ax.selectAll('line').attr('stroke','#333').attr('stroke-width',1.4);
  ax.selectAll('text').attr('y',35).attr('dy',0).attr('font-size',21).attr('font-family',SANS).attr('fill','#111');
  const ay = g.append('g').attr('transform',`translate(${x0},0)`)
    .call(d3.axisLeft(y).tickValues(volcYTicks[i]).tickSize(9).tickSizeOuter(0).tickFormat(d3.format('d')));
  ay.select('.domain').remove();
  ay.selectAll('line').attr('stroke','#333').attr('stroke-width',1.4);
  ay.selectAll('text').attr('x',0).attr('y',-22).attr('dy',0).attr('transform','rotate(-90)')
    .attr('text-anchor','middle').attr('font-size',21).attr('font-family',SANS).attr('fill','#111');
  g.append('text').attr('x',(x0+x1)/2).attr('y',y1+70).attr('text-anchor','middle')
    .attr('font-size',21).attr('font-family',SANS).attr('fill','#111').text('logFC');
  g.append('text').attr('transform',`translate(${x0-54},${(y0+y1)/2}) rotate(-90)`).attr('text-anchor','middle')
    .attr('font-size',21).attr('font-family',SANS).attr('fill','#111').text('\u2212log10(FDR)');
  g.append('text').attr('x',x0+15.6).attr('y',y0+40).attr('font-size',26).attr('font-family',SERIF)
    .attr('fill','#000').text(volcNames[i]);
}
for (let i=0;i<6;i++) drawVolcano(i);

const bubbleData = [
  {cats:b1Cats, rich:b1Rich, logP:b1LogP, genes:b1Genes},
  {cats:b2Cats, rich:b2Rich, logP:b2LogP, genes:b2Genes},
  {cats:b3Cats, rich:b3Rich, logP:b3LogP, genes:b3Genes},
  {cats:b4Cats, rich:b4Rich, logP:b4LogP, genes:b4Genes},
  {cats:b5Cats, rich:b5Rich, logP:b5LogP, genes:b5Genes},
  {cats:b6Cats, rich:b6Rich, logP:b6LogP, genes:b6Genes}
];

const AX_FS = 11.8, TITLE_FS = 14.3, AX_COL = '#2b2b2b';

function drawBubble(i){
  const L = bubbleLayout[i], D = bubbleData[i];
  const [fx0,fy0,fx1,fy1] = L.frame, [px0,py0,px1,py1] = L.panel;
  const g = svg.append('g');
  g.append('rect').attr('x',fx0).attr('y',fy0).attr('width',fx1-fx0).attr('height',fy1-fy0)
    .attr('fill','#fff').attr('stroke','#222').attr('stroke-width',2);
  g.append('text').attr('x',L.label[0]).attr('y',L.label[1]).attr('font-family',SERIF).attr('font-size',27).attr('fill','#000').text(bubbleNames[i]);

  const ext = d3.extent(D.rich), pad = (ext[1]-ext[0])*0.05;
  const x = d3.scaleLinear().domain([ext[0]-pad, ext[1]+pad]).range([px0,px1]);
  const y = d3.scalePoint().domain(D.cats).range([py0,py1]).padding(0.6);
  const cExt = d3.extent(D.logP);
  const col = d3.scaleLinear().domain(cExt).range(['#00FF00','#FF0000']).interpolate(d3.interpolateLab);
  const gExt = d3.extent(D.genes);
  const sz = v => gExt[1]===gExt[0] ? 1+5*Math.sqrt(0.5) : 1+5*Math.sqrt((v-gExt[0])/(gExt[1]-gExt[0]));
  const rad = v => 1.5*sz(v)+0.5;

  g.append('rect').attr('x',px0).attr('y',py0).attr('width',px1-px0).attr('height',py1-py0).attr('fill','#EBEBEB');
  g.append('g').selectAll('line').data(bMinor[i]).join('line')
    .attr('x1',v=>x(v)).attr('x2',v=>x(v)).attr('y1',py0).attr('y2',py1).attr('stroke','#fff').attr('stroke-width',0.7);
  g.append('g').selectAll('line').data(bMajor[i]).join('line')
    .attr('x1',v=>x(v)).attr('x2',v=>x(v)).attr('y1',py0).attr('y2',py1).attr('stroke','#fff').attr('stroke-width',1.4);
  g.append('g').selectAll('line').data(D.cats).join('line')
    .attr('x1',px0).attr('x2',px1).attr('y1',c=>y(c)).attr('y2',c=>y(c)).attr('stroke','#fff').attr('stroke-width',1.4);

  const pts = D.cats.map((c,j)=>({c, r:D.rich[j], p:D.logP[j], n:D.genes[j]}));
  g.append('g').selectAll('circle').data(pts).join('circle')
    .attr('cx',d=>x(d.r)).attr('cy',d=>y(d.c)).attr('r',d=>rad(d.n)).attr('fill',d=>col(d.p));

  const yl = g.append('g');
  yl.selectAll('line').data(D.cats).join('line')
    .attr('x1',px0-4.2).attr('x2',px0).attr('y1',c=>y(c)).attr('y2',c=>y(c)).attr('stroke','#333').attr('stroke-width',1);
  D.cats.forEach(c=>{
    const lines = c.split('\n');
    const t = yl.append('text').attr('text-anchor','end').attr('font-family',SANS).attr('font-size',AX_FS).attr('fill',AX_COL);
    lines.forEach((s,k)=>{
      t.append('tspan').attr('x',px0-7).attr('y',y(c)+(k-(lines.length-1)/2)*12.3+4.2).text(s);
    });
  });
  const fmt = d3.format(bXFmt[i]);
  const xl = g.append('g');
  xl.selectAll('line').data(bMajor[i]).join('line')
    .attr('x1',v=>x(v)).attr('x2',v=>x(v)).attr('y1',py1).attr('y2',py1+4.2).attr('stroke','#333').attr('stroke-width',1);
  xl.selectAll('text').data(bMajor[i]).join('text')
    .attr('x',v=>x(v)).attr('y',py1+15.2).attr('text-anchor','middle').attr('font-family',SANS).attr('font-size',AX_FS).attr('fill',AX_COL).text(v=>fmt(v));
  g.append('text').attr('x',(px0+px1)/2).attr('y',py1+32.3).attr('text-anchor','middle')
    .attr('font-family',SANS).attr('font-size',TITLE_FS).attr('fill','#000').text('RichFactor');

  // colour legend
  const lx = L.lx, bw = 22.1;
  const ct = g.append('text').attr('x',lx).attr('y',L.colorTitle+5).attr('font-family',SANS).attr('font-size',TITLE_FS).attr('fill','#000');
  ct.append('tspan').text('\u2212\u2009log');
  ct.append('tspan').attr('font-size',TITLE_FS*0.72).attr('dy',4).text('10');
  ct.append('tspan').attr('dy',-4).text('(P_Value)');
  const gid = 'grad'+i;
  const grad = defs.append('linearGradient').attr('id',gid).attr('x1',0).attr('y1',1).attr('x2',0).attr('y2',0);
  d3.range(0,1.0001,0.05).forEach(t=>grad.append('stop').attr('offset',t).attr('stop-color',col(cExt[0]+t*(cExt[1]-cExt[0]))));
  const cb = d3.scaleLinear().domain(cExt).range([L.bar[1], L.bar[0]]);
  g.append('rect').attr('x',lx).attr('y',L.bar[0]).attr('width',bw).attr('height',L.bar[1]-L.bar[0]).attr('fill',`url(#${gid})`);
  const cfmt = d3.format(bColorFmt[i]);
  bColorBreaks[i].forEach(v=>{
    const yy = cb(v);
    g.append('line').attr('x1',lx).attr('x2',lx+4.4).attr('y1',yy).attr('y2',yy).attr('stroke','#fff').attr('stroke-width',1);
    g.append('line').attr('x1',lx+bw-4.4).attr('x2',lx+bw).attr('y1',yy).attr('y2',yy).attr('stroke','#fff').attr('stroke-width',1);
    g.append('text').attr('x',lx+bw+7.6).attr('y',yy+4.2).attr('font-family',SANS).attr('font-size',AX_FS).attr('fill',AX_COL).text(cfmt(v));
  });

  // gene number legend
  g.append('text').attr('x',lx).attr('y',L.geneTitle+5).attr('font-family',SANS).attr('font-size',TITLE_FS).attr('fill','#000').text('Gene number');
  const gfmt = d3.format(bGeneFmt[i]);
  const kb = bGeneBreaks[i];
  g.append('rect').attr('x',lx).attr('y',L.key0-L.keyStep/2).attr('width',bw).attr('height',L.keyStep*kb.length).attr('fill','#F2F2F2');
  kb.forEach((v,k)=>{
    const yy = L.key0 + k*L.keyStep;
    g.append('circle').attr('cx',lx+bw/2).attr('cy',yy).attr('r',rad(v)).attr('fill','#000');
    g.append('text').attr('x',lx+bw+7.6).attr('y',yy+4.2).attr('font-family',SANS).attr('font-size',AX_FS).attr('fill',AX_COL).text(gfmt(v));
  });
}
for (let i=0;i<6;i++) drawBubble(i);
</script>
</body></html>
